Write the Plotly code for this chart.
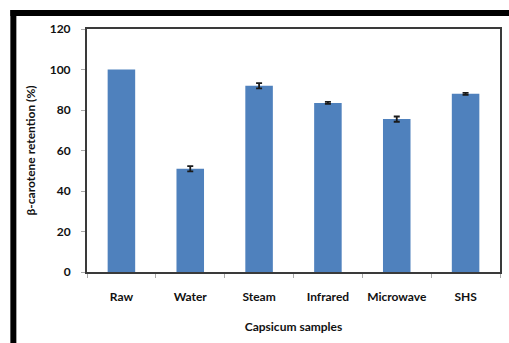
import plotly.graph_objects as go

# Beta-carotene retention of capsicum after each treatment
samples = ["Raw", "Water", "Steam", "Infrared", "Microwave", "SHS"]
retention = [100, 51, 92, 83.5, 75.5, 88]
retention_err = [None, 1.3, 1.3, 0.5, 1.3, 0.5]
y_ticks = [0, 20, 40, 60, 80, 100, 120]

W, H = 509, 343
# plot-area edges in pixels
L, R, T, B = 87, 502, 29, 272

def px_x(p):
    return (p - L) / (R - L)

def px_y(p):
    return (B - p) / (B - T)

font_family = "Lato, Open Sans, sans-serif"
bold = dict(family=font_family, size=12, weight="bold", color="#111111")

# error bars are drawn only for samples that have a spread
err_y = [v if e is not None else None for v, e in zip(retention, retention_err)]
err_vals = [e if e is not None else 0 for e in retention_err]

fig = go.Figure()
fig.add_trace(
    go.Bar(
        x=samples,
        y=retention,
        marker=dict(color="#4F81BD", line=dict(width=0)),
        width=0.4,
        hoverinfo="x+y",
    )
)
fig.add_trace(
    go.Scatter(
        x=samples,
        y=err_y,
        mode="markers",
        marker=dict(size=1, opacity=0),
        error_y=dict(type="data", array=err_vals, color="#1a1a1a",
                     thickness=1.8, width=3),
        hoverinfo="skip",
    )
)

fig.update_layout(
    width=W,
    height=H,
    margin=dict(l=L, r=W - R, t=T, b=H - B),
    paper_bgcolor="white",
    plot_bgcolor="white",
    showlegend=False,
    font=dict(family=font_family, color="#111111"),
    xaxis=dict(
        title=dict(text="Capsicum samples", font=bold, standoff=19),
        tickfont=bold,
        ticklabelstandoff=13,
        showline=True, linecolor="#3a3a3a", linewidth=2, mirror=True,
        ticks="outside", tickson="boundaries", ticklen=4, tickcolor="#aaaaaa",
        showgrid=False,
    ),
    yaxis=dict(
        title=dict(text="β-carotene retention (%)", font=bold, standoff=12),
        range=[0, 120],
        tickvals=y_ticks,
        tickfont=bold,
        ticklabelstandoff=8,
        showline=True, linecolor="#3a3a3a", linewidth=2, mirror=True,
        ticks="outside", ticklen=4, tickcolor="#aaaaaa",
        showgrid=False, zeroline=False,
    ),
    shapes=[
        # heavy black frame along the top and left of the figure
        dict(type="line", xref="paper", yref="paper",
             x0=px_x(10), x1=px_x(W + 5), y0=px_y(13), y1=px_y(13),
             line=dict(color="black", width=6)),
        dict(type="line", xref="paper", yref="paper",
             x0=px_x(13), x1=px_x(13), y0=px_y(10), y1=px_y(H + 5),
             line=dict(color="black", width=6)),
    ],
)

fig.write_html("out.html")
